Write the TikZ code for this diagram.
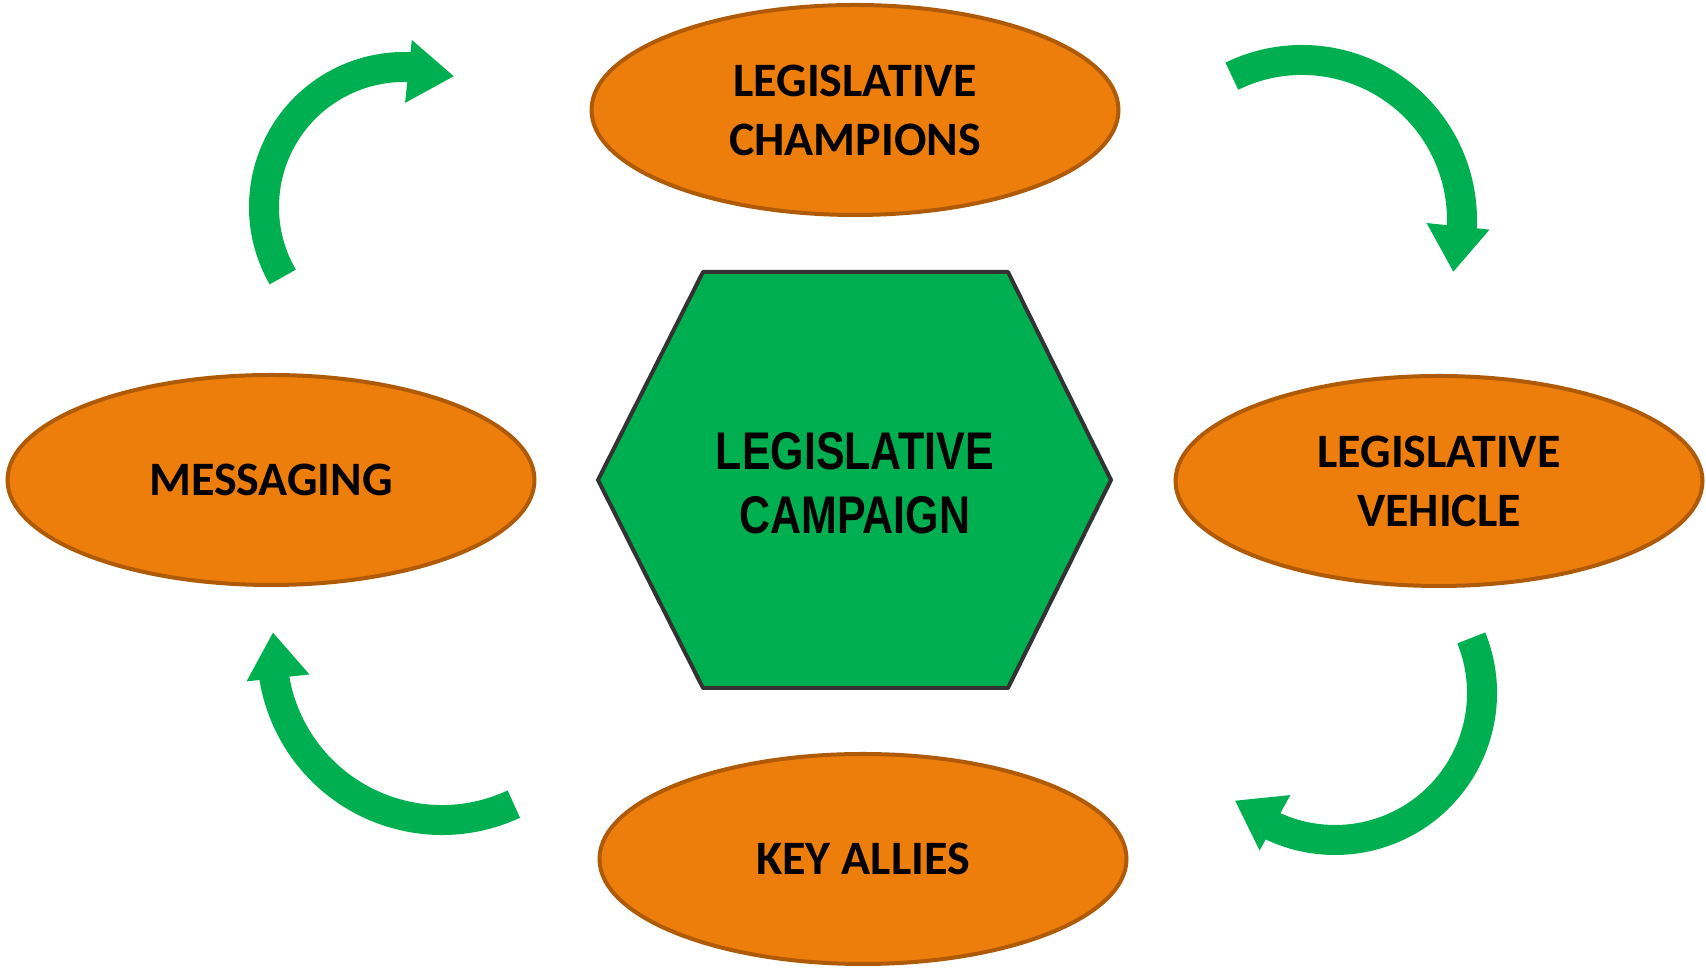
\documentclass[tikz,border=0pt]{standalone}
\usepackage{fontspec}
\newfontfamily\ovalfont{Carlito}
\newfontfamily\hexfont[FakeStretch=0.81]{Liberation Sans}
\usetikzlibrary{shapes,arrows.meta,bending,positioning}
\definecolor{ovalorange}{RGB}{238,126,11}
\definecolor{ovalrim}{RGB}{174,90,6}
\definecolor{campgreen}{RGB}{0,176,80}
\definecolor{hexrim}{RGB}{51,51,51}

\begin{document}
\begin{tikzpicture}[
    x=1pt, y=1pt,
    oval/.style={ellipse, draw=ovalrim, line width=4pt, fill=ovalorange, minimum width=527pt, minimum height=210pt, inner sep=0pt, align=center, font=\ovalfont\bfseries\fontsize{48}{59}\selectfont},
    hexa/.style={draw=hexrim, line width=4pt, fill=campgreen, line join=round},
    flow/.style={draw=campgreen, line width=30pt, -{Triangle[flex=1.6, length=46pt, width=60pt]}}
]
    \useasboundingbox (0,0) rectangle (1706,973);

    % centre hexagon
    \draw[hexa] (598,493) -- (703,701) -- (1008,701) -- (1111,493) -- (1008,285) -- (703,285) -- cycle;
    \node[align=center, font=\hexfont\bfseries\fontsize{53}{64}\selectfont] (camp) at (855,490) {LEGISLATIVE\\CAMPAIGN};

    \node[oval] (champ) at (855,863) {LEGISLATIVE\\CHAMPIONS};
    \node[oval] (vehicle) at (1439,492) {LEGISLATIVE\\VEHICLE};
    \node[oval] (allies) at (863,114) {KEY ALLIES};
    \node[oval] (msg) at (271,493) {MESSAGING};

    % circular arrows
    \coordinate (pivotNE) at (1302,753);
    \coordinate (pivotSE) at (1335,280);
    \coordinate (pivotSW) at (442,323);
    \coordinate (pivotNW) at (404,766);

    \draw[flow] ([shift={(116:160)}]pivotNE) arc[start angle=116, end angle=-19, radius=160];
    \draw[flow] ([shift={(22:147)}]pivotSE) arc[start angle=22, end angle=-133, radius=147];
    \draw[flow] ([shift={(-65:170)}]pivotSW) arc[start angle=-65, end angle=-186, radius=170];
    \draw[flow] ([shift={(210:140)}]pivotNW) arc[start angle=210, end angle=69, radius=140];
\end{tikzpicture}
\end{document}
